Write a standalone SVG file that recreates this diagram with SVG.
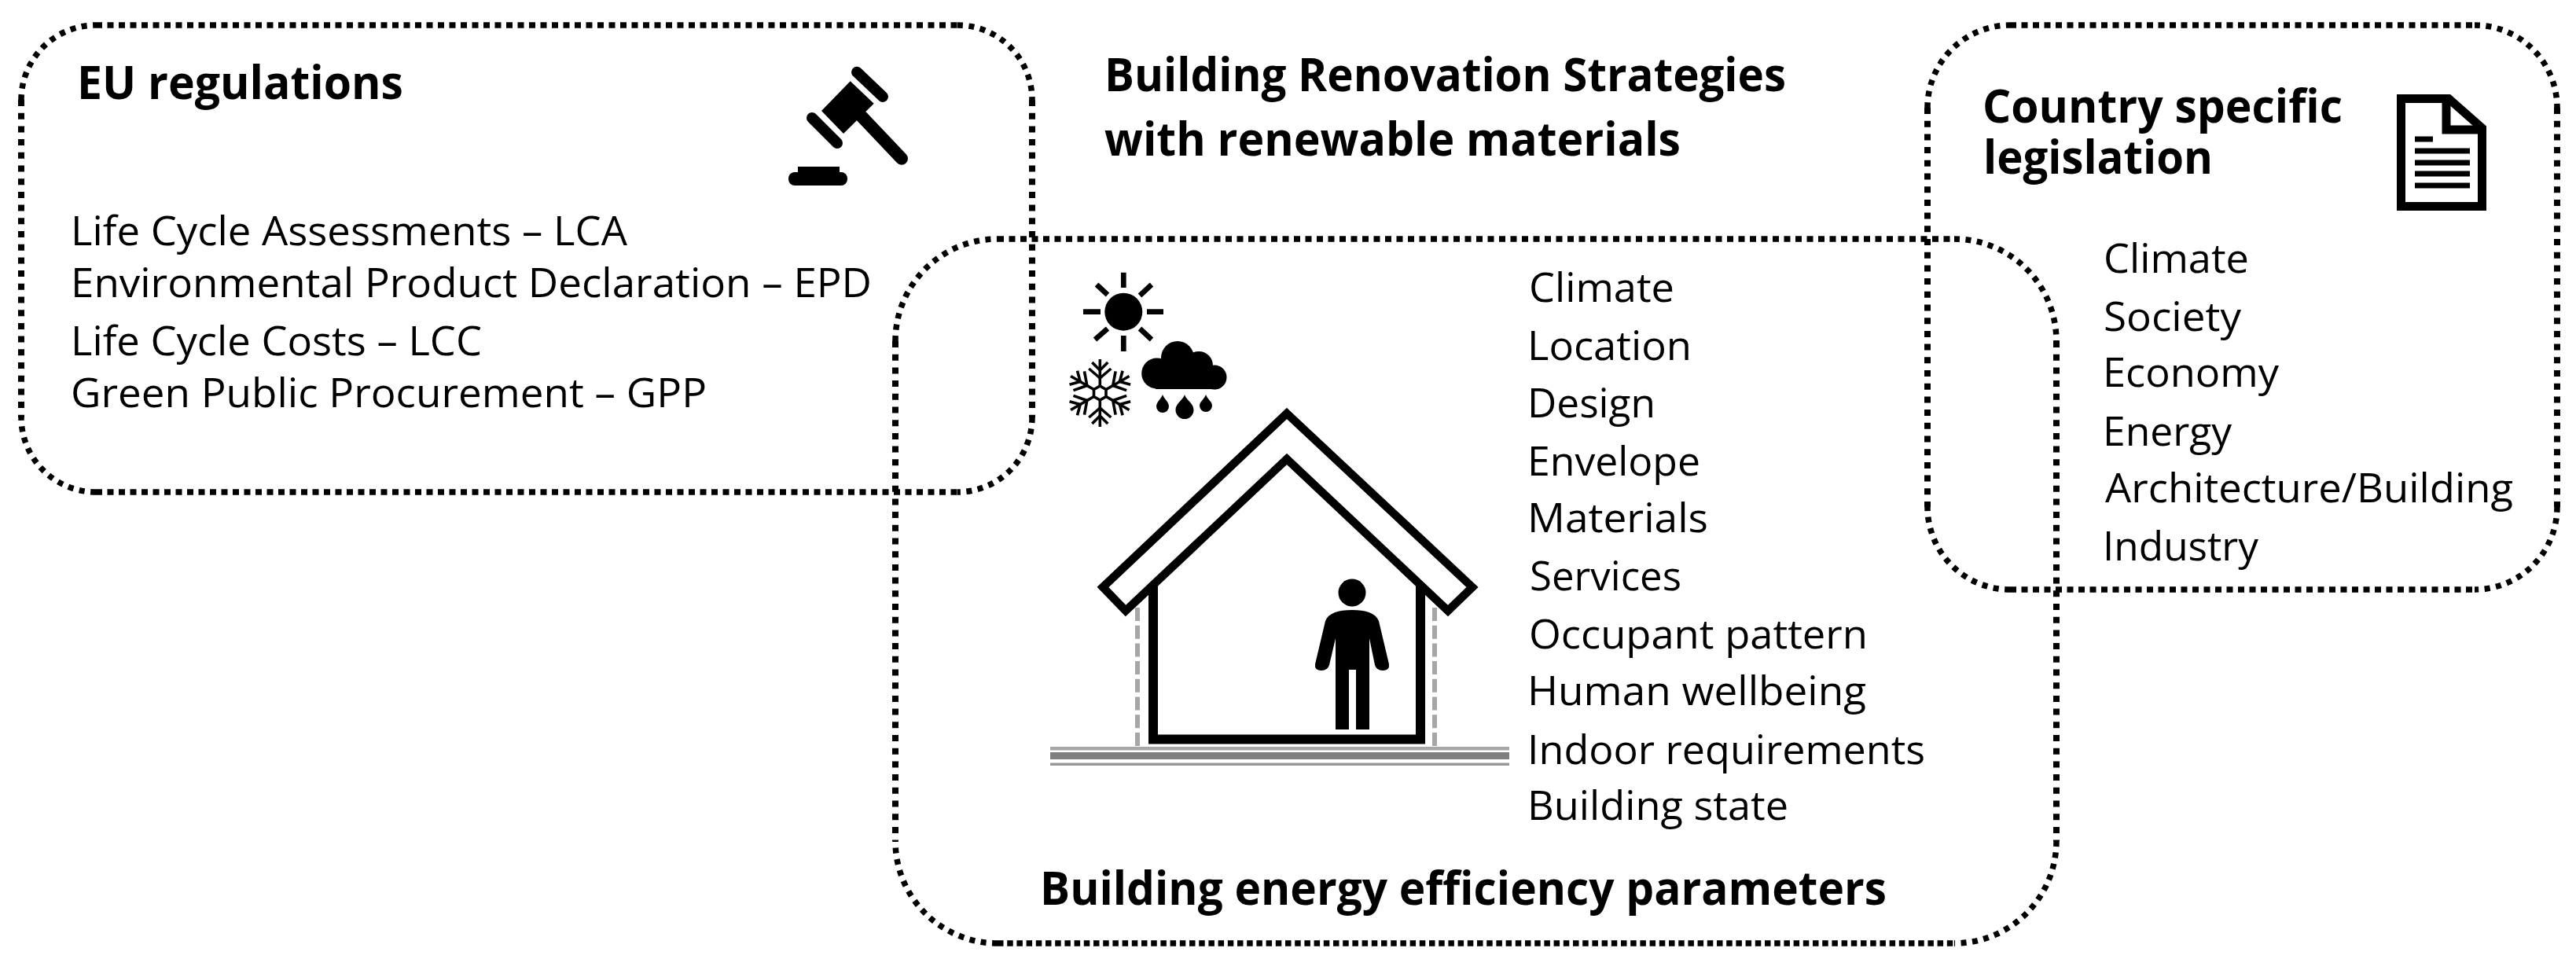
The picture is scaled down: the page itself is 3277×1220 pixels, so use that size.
<svg xmlns="http://www.w3.org/2000/svg" xmlns:xlink="http://www.w3.org/1999/xlink" width="3277" height="1220" viewBox="0 0 3277 1220">
<style>
text{font-family:"Open Sans","Noto Sans","Liberation Sans",sans-serif;fill:#000}
.b{font-weight:700;font-size:59px}
.t{font-weight:400;font-size:52px}
.e,.c,.h,.v,.g{fill:none;stroke:#000}
.h{stroke-width:7.5;stroke-dasharray:8 6.5}
.g{stroke-width:7.5;stroke-dasharray:7.5 4.7}
.v{stroke-width:8;stroke-dasharray:8 8.7}
.c{stroke-width:7.5;stroke-dasharray:7 7.5}
.k{fill:#000;stroke:none}
.ln{fill:none;stroke:#000}
.dg{fill:none;stroke:#a6a6a6;stroke-width:6;stroke-dasharray:17 5.7}
</style>
<defs>
<g id="arm" fill="none" stroke="#000" stroke-width="3.6">
<path d="M0,-9V-43"/>
<path d="M-14,-31L0,-19L14,-31"/>
<path d="M-10,-39L0,-29L10,-39"/>
</g>
</defs>
<rect width="3277" height="1220" fill="#fff"/>
<g id="eu-regulations">
<path class="h" d="M122,32H1218M122,626H1218"/>
<path class="v" d="M27,127V531M1313,127V531"/>
<path class="c" d="M27,127A95,95 0 0 1 122,32M1218,32A95,95 0 0 1 1313,127M1313,531A95,95 0 0 1 1218,626M122,626A95,95 0 0 1 27,531"/>
<text class="b" x="98" y="126" textLength="415" lengthAdjust="spacingAndGlyphs">EU regulations</text>
<text class="t" x="90" y="312" textLength="708" lengthAdjust="spacingAndGlyphs">Life Cycle Assessments – LCA</text>
<text class="t" x="90" y="378" textLength="1019" lengthAdjust="spacingAndGlyphs">Environmental Product Declaration – EPD</text>
<text class="t" x="90" y="452" textLength="523" lengthAdjust="spacingAndGlyphs">Life Cycle Costs – LCC</text>
<text class="t" x="90" y="518" textLength="809" lengthAdjust="spacingAndGlyphs">Green Public Procurement – GPP</text>
<g id="gavel-icon">
<path class="k" d="M1081.7,103.3L1111.7,131.7L1073,170L1045,141Z"/>
<path class="ln" d="M1090,91.7L1123,123M1033,150L1065,182" stroke-width="14" stroke-linecap="round"/>
<path class="ln" d="M1096,148L1147,201.7" stroke-width="16" stroke-linecap="round"/>
<rect class="k" x="1015" y="212" width="53" height="14"/>
<rect class="k" x="1003" y="219" width="75" height="17" rx="8"/>
</g>
</g>
<g id="title">
<text class="b" x="1405" y="116" textLength="867" lengthAdjust="spacingAndGlyphs">Building Renovation Strategies</text>
<text class="b" x="1405" y="198" textLength="733" lengthAdjust="spacingAndGlyphs">with renewable materials</text>
</g>
<g id="country-legislation">
<path class="h" d="M2557,32H3148M2557,750H3148"/>
<path class="v" d="M2452,137V645M3253,137V645"/>
<path class="c" d="M2452,137A105,105 0 0 1 2557,32M3148,32A105,105 0 0 1 3253,137M3253,645A105,105 0 0 1 3148,750M2557,750A105,105 0 0 1 2452,645"/>
<text class="b" x="2522" y="156" textLength="458" lengthAdjust="spacingAndGlyphs">Country specific</text>
<text class="b" x="2523" y="221" textLength="292" lengthAdjust="spacingAndGlyphs">legislation</text>
<text class="t" x="2676" y="347" textLength="185" lengthAdjust="spacingAndGlyphs">Climate</text>
<text class="t" x="2676" y="421" textLength="175" lengthAdjust="spacingAndGlyphs">Society</text>
<text class="t" x="2675" y="492" textLength="224" lengthAdjust="spacingAndGlyphs">Economy</text>
<text class="t" x="2675" y="567" textLength="164" lengthAdjust="spacingAndGlyphs">Energy</text>
<text class="t" x="2678" y="639" textLength="519" lengthAdjust="spacingAndGlyphs">Architecture/Building</text>
<text class="t" x="2675" y="713" textLength="198" lengthAdjust="spacingAndGlyphs">Industry</text>
<g id="document-icon">
<path class="ln" d="M3054.5,125.5H3115L3157.5,163V262.5H3054.5Z" stroke-width="11"/>
<path class="ln" d="M3112,125V165H3157" stroke-width="11"/>
<path class="ln" d="M3072,177H3095M3072,192H3142M3072,207H3142M3072,221H3142M3072,236H3142" stroke-width="7"/>
</g>
</g>
<g id="building-parameters">
<path class="h" d="M1269,304H2486"/>
<path class="g" d="M1269,1200H2486"/>
<path class="v" d="M1139,434V1070M2616,434V1070"/>
<path class="c" d="M1139,434A130,130 0 0 1 1269,304M2486,304A130,130 0 0 1 2616,434M2616,1070A130,130 0 0 1 2486,1200M1269,1200A130,130 0 0 1 1139,1070"/>
<text class="t" x="1945" y="384" textLength="185" lengthAdjust="spacingAndGlyphs">Climate</text>
<text class="t" x="1943" y="458" textLength="209" lengthAdjust="spacingAndGlyphs">Location</text>
<text class="t" x="1943" y="531" textLength="163" lengthAdjust="spacingAndGlyphs">Design</text>
<text class="t" x="1943" y="605" textLength="220" lengthAdjust="spacingAndGlyphs">Envelope</text>
<text class="t" x="1943" y="677" textLength="230" lengthAdjust="spacingAndGlyphs">Materials</text>
<text class="t" x="1946" y="751" textLength="193" lengthAdjust="spacingAndGlyphs">Services</text>
<text class="t" x="1945" y="825" textLength="431" lengthAdjust="spacingAndGlyphs">Occupant pattern</text>
<text class="t" x="1943" y="897" textLength="431" lengthAdjust="spacingAndGlyphs">Human wellbeing</text>
<text class="t" x="1943" y="972" textLength="506" lengthAdjust="spacingAndGlyphs">Indoor requirements</text>
<text class="t" x="1943" y="1043" textLength="332" lengthAdjust="spacingAndGlyphs">Building state</text>
<text class="b" x="1323" y="1151" textLength="1077" lengthAdjust="spacingAndGlyphs">Building energy efficiency parameters</text>
<g id="sun-icon">
<circle class="k" cx="1429.3" cy="396.7" r="24"/>
<path class="ln" d="M1429.3,346.7V366M1429.3,427V447M1378,396.7H1400M1459,396.7H1480M1395,362L1409,375M1465,362L1450,376M1393,432L1409,418M1465,432L1450,418" stroke-width="6.7"/>
</g>
<g id="snow-icon">
<use xlink:href="#arm" href="#arm" transform="translate(1399.3,500)"/>
<use xlink:href="#arm" href="#arm" transform="translate(1399.3,500) rotate(60)"/>
<use xlink:href="#arm" href="#arm" transform="translate(1399.3,500) rotate(120)"/>
<use xlink:href="#arm" href="#arm" transform="translate(1399.3,500) rotate(180)"/>
<use xlink:href="#arm" href="#arm" transform="translate(1399.3,500) rotate(240)"/>
<use xlink:href="#arm" href="#arm" transform="translate(1399.3,500) rotate(300)"/>
<path class="ln" stroke-width="3.6" d="M1399.3,491L1407,495.5V504.5L1399.3,509L1391.5,504.5V495.5Z"/>
</g>
<g id="rain-icon">
<circle class="k" cx="1471.7" cy="475" r="19.5"/>
<circle class="k" cx="1498" cy="455" r="21"/>
<circle class="k" cx="1525" cy="465" r="18"/>
<circle class="k" cx="1545" cy="480" r="15.5"/>
<rect class="k" x="1470" y="465" width="76" height="30"/>
<path class="k" d="M1479,502C1481,508 1487,511 1487,517A8,8 0 1 1 1471,517C1471,511 1477,508 1479,502Z"/>
<path class="k" d="M1507,502C1509,509 1518.5,513 1518.5,521.5A11.5,11.5 0 1 1 1495.5,521.5C1495.5,513 1505,509 1507,502Z"/>
<path class="k" d="M1534,502C1536,508 1542,511 1542,516A8,8 0 1 1 1526,516C1526,511 1532,508 1534,502Z"/>
</g>
<g id="house-icon">
<path class="dg" d="M1447,773V950M1825,773V950"/>
<path class="ln" d="M1637,526L1873,747L1842,777L1637,584L1432,777L1403,747Z" stroke-width="10.5"/>
<path class="ln" d="M1467,742V940.5H1807V742" stroke-width="12"/>
<rect x="1336" y="950" width="584" height="4.5" fill="#a6a6a6"/>
<rect x="1336" y="957" width="584" height="9" fill="#7f7f7f"/>
<rect x="1336" y="970.5" width="584" height="3.5" fill="#999"/>
</g>
<g id="person-icon">
<circle class="k" cx="1720" cy="754" r="17.5"/>
<path class="k" d="M1720,776C1738,776 1750,780 1754,790L1767,845Q1768,853 1759,853Q1751,853 1749,846L1742,812V928H1725V852H1716V928H1699V812L1691,846Q1689,853 1681,853Q1672,853 1673,845L1686,790C1690,780 1702,776 1720,776Z"/>
</g>
</g>
</svg>
